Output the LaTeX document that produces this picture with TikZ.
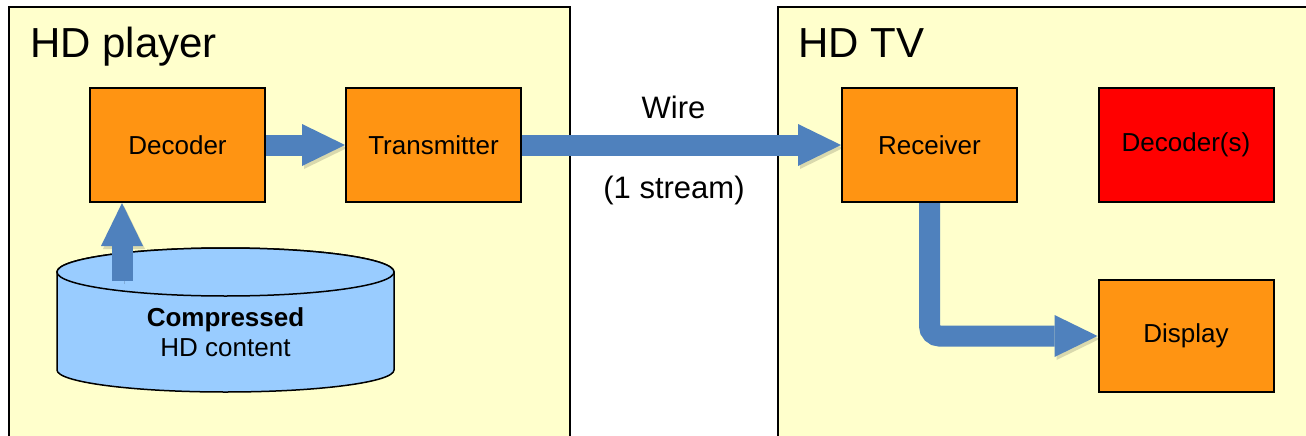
\documentclass[tikz,border=0pt]{standalone}
\usepackage{fontspec}
\setmainfont{Liberation Sans}
\usetikzlibrary{arrows.meta}
\definecolor{panelyellow}{HTML}{FFFFCC}
\definecolor{boxorange}{HTML}{FF9412}
\definecolor{arrowblue}{HTML}{4F81BD}
\definecolor{diskblue}{HTML}{99CCFF}
\begin{document}
\begin{tikzpicture}[x=1pt, y=-1pt,
    panel/.style={draw=black, line width=1.5pt, fill=panelyellow},
    title/.style={anchor=base west, inner sep=0pt, font=\fontsize{42}{48}\selectfont},
    block/.style={draw=black, line width=2pt, fill=boxorange, minimum width=175pt,
        minimum height=114pt, inner sep=0pt, font=\fontsize{26}{30}\selectfont},
    disk/.style={draw=black, line width=1.5pt, fill=diskblue},
    disktext/.style={inner sep=0pt, align=center, font=\fontsize{26}{30}\selectfont},
    flow/.style={draw=arrowblue, line width=21pt,
        -{Triangle[length=43pt, width=42pt, line width=0pt]},
        preaction={draw=black, opacity=0.15, transform canvas={shift={(2pt,-3pt)}}}},
    wirelabel/.style={anchor=base, inner sep=0pt, font=\fontsize{31}{36}\selectfont}]
    \useasboundingbox (0,0) rectangle (1306,436);
    \clip (0,0) rectangle (1306,436);
    % the two devices
    \draw [panel] (9,7) rectangle (570,460);
    \draw [panel] (778,7) rectangle (1330,460);
    \node [title] (player) at (30,58) {HD player};
    \node [title] (tv) at (798,58) {HD TV};
    % blocks
    \node [block] (dec) at (177.5,145) {Decoder};
    \node [block] (trn) at (433.5,145) {Transmitter};
    \node [block] (rec) at (929.5,145) {Receiver};
    \node [block, fill=red] (decs) at (1186,145) {Decoder(s)};
    \node [block, minimum height=112pt] (disp) at (1186,336) {Display};
    % storage
    \draw [disk] (57,272) -- (57,370) arc [start angle=180, end angle=360, x radius=168.5pt, y radius=22pt]
        -- (394,272) arc [start angle=0, end angle=180, x radius=168.5pt, y radius=24pt] -- cycle;
    \draw [disk] (225.5,272) ellipse [x radius=168.5pt, y radius=24pt];
    \node [disktext] (store) at (225.5,332.5) {\textbf{Compressed}\\HD content};
    % flows
    \coordinate (src) at (122,281);
    \draw [flow] (src) -- (src |- dec.south);
    \draw [flow] (dec.east) -- (trn.west);
    \draw [flow] (trn.east) -- (rec.west);
    \draw [flow, rounded corners=10pt] (rec.south) |- (disp.west);
    \node [wirelabel] (wire) at (673.5,118) {Wire};
    \node [wirelabel] (nstream) at (674,198) {(1 stream)};
\end{tikzpicture}
\end{document}
